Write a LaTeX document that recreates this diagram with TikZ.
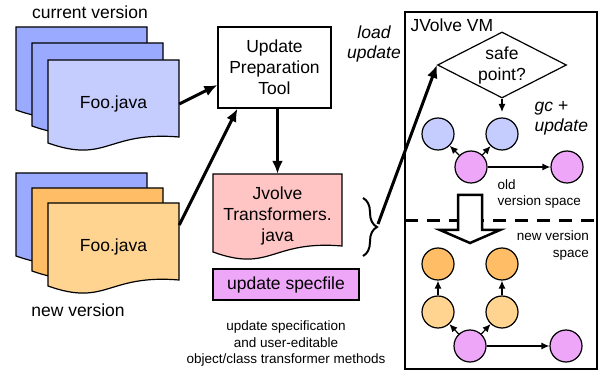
\documentclass[tikz,border=0pt]{standalone}
\usepackage{fontspec}
\setmainfont{Liberation Sans}
\usetikzlibrary{arrows.meta,shapes.geometric,decorations.pathreplacing}

\definecolor{docblue}{HTML}{9AABFF}
\definecolor{lightblue}{HTML}{C5CDFF}
\definecolor{docorange}{HTML}{FFBE66}
\definecolor{lightorange}{HTML}{FFD390}
\definecolor{docpink}{HTML}{FFC5C5}
\definecolor{specviolet}{HTML}{EEA6F8}

% fill, x, y, width, height
\newcommand\docshape[5]{%
	\filldraw[fill=#1, line width=1.2pt] (#2,#3) -- ({#2+#4},#3) -- ({#2+#4},{#3+#5})
		.. controls ({#2+0.45*#4},{#3+#5-6}) and ({#2+0.45*#4},{#3+#5+27}) .. (#2,{#3+#5+6}) -- cycle;}

\begin{document}
\begin{tikzpicture}
		[x=1pt, y=-1pt,
		big/.style={font=\fontsize{17.5}{21}\selectfont},
		bigit/.style={font=\fontsize{17.5}{20}\selectfont\itshape},
		small/.style={font=\fontsize{13.5}{16.5}\selectfont},
		doctext/.style={big, minimum width=131pt, inner sep=0pt},
		box/.style={draw, line width=1.2pt, big, align=center, inner sep=0pt},
		obj/.style={circle, draw, line width=1.2pt, minimum size=32pt, inner sep=0pt},
		arr/.style={line width=3pt, -{Latex[length=13pt,width=11pt]}},
		link/.style={line width=1.2pt, -{Latex[length=8pt,width=7pt]}}]

		\useasboundingbox (0,0) rectangle (600,371);

		\docshape{docblue}{16}{27}{131}{77}
		\docshape{docblue}{32}{43}{131}{77}
		\docshape{lightblue}{48}{60}{131}{77}
		\docshape{docblue}{16}{173}{131}{77}
		\docshape{docorange}{32}{188}{131}{77}
		\docshape{lightorange}{48}{203}{131}{77}
		\docshape{docpink}{213}{174}{129}{72}

		\node[big] (curlabel) at (90,12) {current version};
		\node[doctext] (curfoo) at (113.5,104) {Foo.java};
		\node[doctext] (newfoo) at (113.5,247) {Foo.java};
		\node[big] (newlabel) at (78,310) {new version};

		\node[box, minimum width=113pt, minimum height=81pt, fill=white] (tool) at (274.5,67.5) {Update\\Preparation\\Tool};
		\node[big, align=center, minimum height=84pt, inner sep=0pt] (jvt) at (277.5,216) {Jvolve\\Transformers.\\java};
		\node[box, minimum width=146pt, minimum height=31pt, fill=specviolet] (spec) at (286,284.5) {update specfile};
		\node[small, align=center] (caption) at (286,344) {update specification\\and user-editable\\object/class transformer methods};
		\node[bigit, align=center] (load) at (374,44) {load\\update};

		\coordinate (br1) at (363,198);
		\coordinate (br2) at (363,256);
		\coordinate (brtip) at (378,224);

		\node[draw, line width=1.8pt, minimum width=192pt, minimum height=357pt] (vm) at (501,190.5) {};
		\node[big, anchor=west] (vmname) at (407,25) {JVolve VM};
		\node[diamond, draw, line width=1.2pt, fill=white, aspect=2, inner sep=0pt,
			minimum width=129pt, minimum height=66pt, big, align=center] (sp) at (502,65) {safe\\point?};
		\coordinate (gcpt) at (502,112);
		\node[bigit, align=left, anchor=west] (gc) at (531,118) {gc +\\update};

		\node[obj, fill=lightblue] (ob1) at (438,134) {};
		\node[obj, fill=lightblue] (ob2) at (502,134) {};
		\node[obj, fill=specviolet] (op1) at (471,167) {};
		\node[obj, fill=specviolet] (op2) at (567,167) {};
		\node[small, align=left, anchor=west] (old) at (494,194) {old\\version space};

		\coordinate (dl) at (405,221);
		\coordinate (dr) at (597,221);
		\draw[line width=3pt, dash pattern=on 13pt off 9pt] (dl) -- (dr);
		\draw[line width=2.5pt, fill=white] (458,195) -- (482,195) -- (482,230) -- (500,230)
			-- (470,243) -- (440,230) -- (458,230) -- cycle;
		\node[small, align=right, anchor=east] (new) at (592.5,245.5) {new version\\space};

		\node[obj, fill=docorange] (nd1) at (438,264) {};
		\node[obj, fill=docorange] (nd2) at (502,264) {};
		\node[obj, fill=lightorange] (nl1) at (438,312) {};
		\node[obj, fill=lightorange] (nl2) at (502,312) {};
		\node[obj, fill=specviolet] (np1) at (470,346) {};
		\node[obj, fill=specviolet] (np2) at (566,346) {};

		\draw[arr] (curfoo.east) -- ([yshift=-17.5pt]tool.west);
		\draw[arr] ([yshift=22pt]newfoo.east) -- ([xshift=20pt]tool.south west);
		\draw[arr] (jvt.north |- tool.south) -- (jvt.north);
		\draw[decorate, decoration={brace, amplitude=14pt}, line width=2pt] (br1) -- (br2);
		\draw[arr] (brtip) -- (sp.west);
		\draw[link] (sp.south) -- (gcpt);

		\draw[link] (op1) -- (ob1);
		\draw[link] (op1) -- (ob2);
		\draw[link] (op1) -- (op2);
		\draw[link] (np1) -- (nl1);
		\draw[link] (np1) -- (nl2);
		\draw[link] (nl1) -- (nd1);
		\draw[link] (nl2) -- (nd2);
		\draw[link] (np1) -- (np2);
	\end{tikzpicture}
\end{document}
